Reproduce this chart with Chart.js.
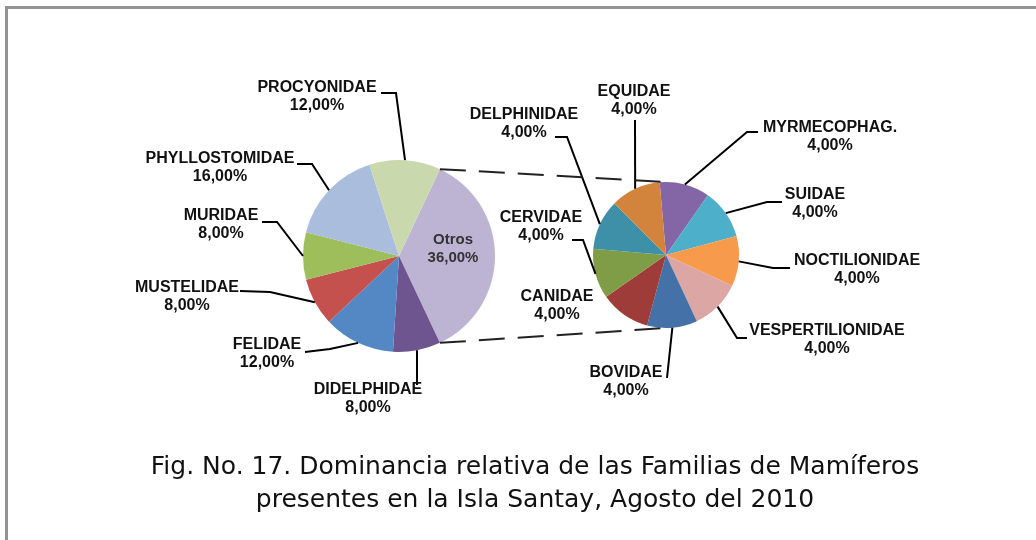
<!DOCTYPE html>
<html>
<head>
<meta charset="utf-8">
<script src="https://cdn.jsdelivr.net/npm/chart.js@4.4.1/dist/chart.umd.min.js"></script>
<style>
  html, body { margin: 0; padding: 0; background: #fff; }
  #wrap { position: relative; width: 1036px; height: 540px; overflow: hidden; }
  #frame { position: absolute; left: 5px; top: 6px; width: 1100px; height: 600px;
           border-top: 3px solid #939393; border-left: 3px solid #939393; }
  canvas { position: absolute; left: 0; top: 0; }
  #title { position: absolute; left: 0; width: 1070px; top: 449px; text-align: center;
           font-family: "DejaVu Sans", Verdana, sans-serif; font-size: 25px; line-height: 33px; color: #111; }
</style>
</head>
<body>
<div id="wrap">
  <div id="frame"></div>
  <canvas id="mainPie" width="1036" height="540"></canvas>
  <canvas id="otrosPie" width="1036" height="540"></canvas>
  <div id="title">Fig. No. 17. Dominancia relativa de las Familias de Mamíferos<br>presentes en la Isla Santay, Agosto del 2010</div>
</div>
<script>
// main pie (Otros groups the small families shown in the second pie)
const mainLabels = ['Otros', 'DIDELPHIDAE', 'FELIDAE', 'MUSTELIDAE', 'MURIDAE', 'PHYLLOSTOMIDAE', 'PROCYONIDAE'];
const mainValues = [36, 8, 12, 8, 8, 16, 12];
const mainColors = ['#BDB3D3', '#6E5590', '#5488C5', '#C4514E', '#9DBE5B', '#AABDDC', '#CAD9AD'];

// second pie, detail of "Otros"
const otrosLabels = ['MYRMECOPHAG.', 'SUIDAE', 'NOCTILIONIDAE', 'VESPERTILIONIDAE', 'BOVIDAE', 'CANIDAE', 'CERVIDAE', 'DELPHINIDAE', 'EQUIDAE'];
const otrosValues = [4, 4, 4, 4, 4, 4, 4, 4, 4];
const otrosColors = ['#8466A6', '#4DAFC9', '#F89A4B', '#DBA6A4', '#4471A8', '#9E3C39', '#7F9D47', '#3D90A8', '#D3843C'];

const grandTotal = mainValues.reduce((a, b) => a + b, 0);

function pct(v) {
  return (v / grandTotal * 100).toFixed(2).replace('.', ',') + '%';
}

// text position [x, y of first line], leader start + elbow (end is the slice edge)
const mainLayout = [
  { text: [453, 240], inside: true },
  { text: [368, 390], line: [[417, 385]] },
  { text: [267, 345], line: [[305, 352], [330, 349]] },
  { text: [187, 288], line: [[240, 291], [270, 292]] },
  { text: [221, 216], line: [[262, 222], [277, 222]] },
  { text: [220, 159], line: [[297, 164], [312, 164]] },
  { text: [317, 88], line: [[381, 93], [396, 93]] }
];
const otrosLayout = [
  { text: [830, 128], line: [[758, 132], [747, 132]] },
  { text: [815, 195], line: [[782, 202], [767, 202]] },
  { text: [857, 261], line: [[790, 268], [773, 268]] },
  { text: [827, 331], line: [[747, 338], [737, 338]] },
  { text: [626, 373], line: [[667, 378]] },
  { text: [557, 297] },
  { text: [541, 218], line: [[572, 240], [583, 240]] },
  { text: [524, 115], line: [[555, 137], [567, 137]] },
  { text: [634, 92], line: [[635, 120]] }
];

const pieLabels = {
  id: 'pieLabels',
  afterDatasetsDraw(chart, args, opts) {
    const ctx = chart.ctx;
    const meta = chart.getDatasetMeta(0);
    const values = chart.data.datasets[0].data;
    ctx.save();
    opts.layout.forEach(function (lay, i) {
      const arc = meta.data[i];
      const mid = (arc.startAngle + arc.endAngle) / 2;
      if (lay.line) {
        ctx.beginPath();
        ctx.strokeStyle = '#000';
        ctx.lineWidth = 2;
        ctx.moveTo(lay.line[0][0], lay.line[0][1]);
        for (let k = 1; k < lay.line.length; k++) ctx.lineTo(lay.line[k][0], lay.line[k][1]);
        ctx.lineTo(arc.x + arc.outerRadius * Math.cos(mid), arc.y + arc.outerRadius * Math.sin(mid));
        ctx.stroke();
      }
      ctx.font = lay.inside ? 'bold 15px "Liberation Sans", Arial' : 'bold 16px "Liberation Sans", Arial';
      ctx.fillStyle = lay.inside ? '#333' : '#111';
      ctx.textAlign = 'center';
      ctx.textBaseline = 'middle';
      ctx.fillText(chart.data.labels[i], lay.text[0], lay.text[1]);
      ctx.fillText(pct(values[i]), lay.text[0], lay.text[1] + 18);
    });
    ctx.restore();
  }
};

// dashed lines joining the Otros slice to the second pie
const connectors = {
  id: 'connectors',
  afterDatasetsDraw(chart) {
    const otros = mainChart.getDatasetMeta(0).data[0];
    const first = chart.getDatasetMeta(0).data[0];
    const ctx = chart.ctx;
    ctx.save();
    ctx.strokeStyle = '#222';
    ctx.lineWidth = 2;
    ctx.setLineDash([26, 13]);
    ctx.beginPath();
    ctx.moveTo(otros.x + otros.outerRadius * Math.cos(otros.startAngle), otros.y + otros.outerRadius * Math.sin(otros.startAngle));
    ctx.lineTo(first.x, first.y - first.outerRadius);
    ctx.moveTo(otros.x + otros.outerRadius * Math.cos(otros.endAngle), otros.y + otros.outerRadius * Math.sin(otros.endAngle));
    ctx.lineTo(first.x, first.y + first.outerRadius);
    ctx.stroke();
    ctx.restore();
  }
};

const otrosShare = mainValues[0] / grandTotal;

var mainChart = new Chart(document.getElementById('mainPie'), {
  type: 'pie',
  data: {
    labels: mainLabels,
    datasets: [{ data: mainValues, backgroundColor: mainColors, borderWidth: 0 }]
  },
  options: {
    responsive: false,
    animation: false,
    rotation: 90 - otrosShare * 180, // Otros centred on the right side
    layout: { padding: { left: 303, top: 160, right: 541, bottom: 188 } },
    plugins: {
      legend: { display: false },
      tooltip: { enabled: false },
      pieLabels: { layout: mainLayout }
    }
  },
  plugins: [pieLabels]
});

var otrosChart = new Chart(document.getElementById('otrosPie'), {
  type: 'pie',
  data: {
    labels: otrosLabels,
    datasets: [{ data: otrosValues, backgroundColor: otrosColors, borderWidth: 0 }]
  },
  options: {
    responsive: false,
    animation: false,
    rotation: -5,
    layout: { padding: { left: 593, top: 182, right: 297, bottom: 212 } },
    plugins: {
      legend: { display: false },
      tooltip: { enabled: false },
      pieLabels: { layout: otrosLayout }
    }
  },
  plugins: [pieLabels, connectors]
});
</script>
</body>
</html>
